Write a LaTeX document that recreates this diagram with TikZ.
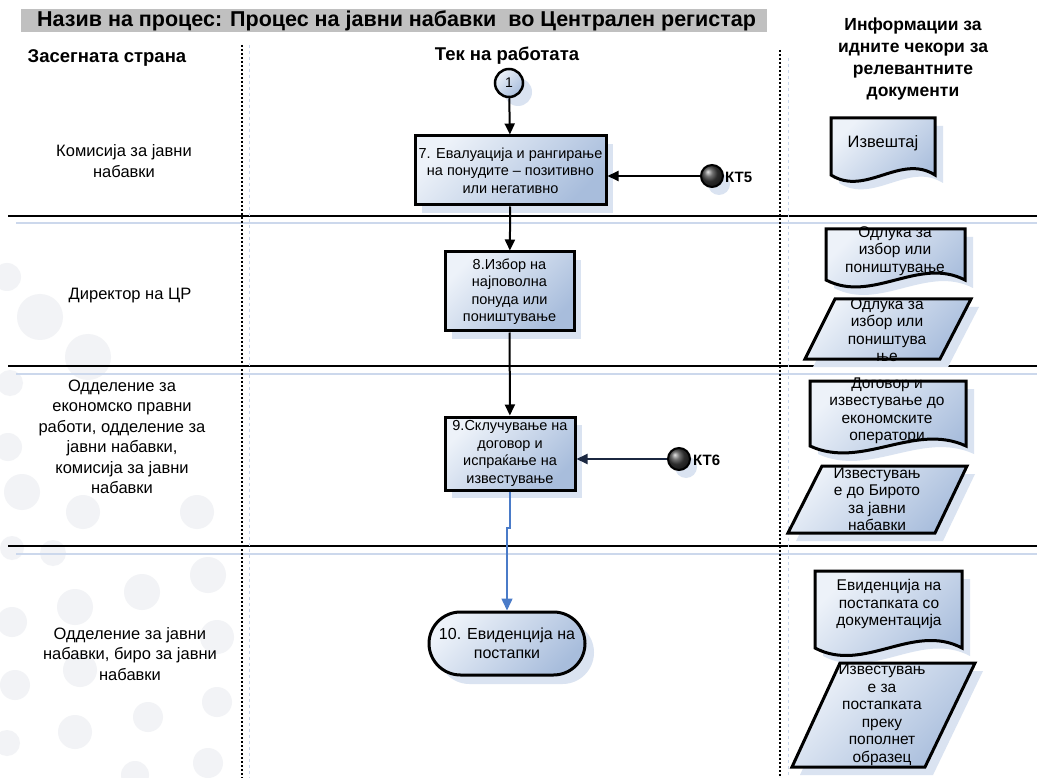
\documentclass[tikz,border=0pt]{standalone}
\usepackage{fontspec}
\setmainfont{Liberation Sans}
\usetikzlibrary{arrows.meta,shadows,shapes.misc}
\definecolor{lf}{HTML}{EDF2F9}
\definecolor{df}{HTML}{A8BDDC}
\definecolor{shc}{HTML}{DAE3F1}
\definecolor{lbl}{HTML}{CCD8EC}
\definecolor{bgc}{HTML}{F2F3F6}
\definecolor{titlegray}{HTML}{C0C0C0}
\definecolor{flowblue}{HTML}{4A7BC8}
\definecolor{navy}{HTML}{1B2740}
\newcommand\docshape[5]{(#1,#2) -- (#3,#2) -- (#3,#4) .. controls ({(2*#3+#1)/3},{#4-#5}) and ({(#3+2*#1)/3},{#4+#5}) .. (#1,#4) -- cycle}
\begin{document}
\begin{tikzpicture}[x=1pt,y=-1pt,
  txt/.style={font=\fontsize{14.5}{17.5}\selectfont, align=center, inner sep=0pt},
  doctxt/.style={font=\fontsize{15.5}{17.5}\selectfont, align=center, inner sep=0pt},
  lane/.style={font=\fontsize{16.5}{20.5}\selectfont, align=center, inner sep=0pt},
  head/.style={font=\bfseries\fontsize{17.5}{22.3}\selectfont, align=center, inner sep=0pt},
  shade45/.style={top color=lf, bottom color=df, shading angle=45},
  proc/.style={txt, draw, line width=3pt, shade45, drop shadow={shadow xshift=7pt, shadow yshift=-8pt, fill=shc, opacity=1}},
  docst/.style={draw, line width=3pt, line join=miter, shade45},
  docsh/.style={fill=shc},
  ktball/.style={circle, draw, line width=2pt, minimum size=22pt, inner sep=0pt, shading=ball, ball color=black!75, drop shadow={shadow xshift=7pt, shadow yshift=-8pt, fill=shc, opacity=1}},
  ktlbl/.style={font=\bfseries\fontsize{15}{17}\selectfont, inner sep=0pt, anchor=west},
  conn/.style={line width=2pt, -{Triangle[length=11pt,width=10pt]}},
  hline/.style={line width=2pt},
  hlblue/.style={line width=2pt, lbl},
  vdot/.style={line width=2pt, dash pattern=on 2pt off 2pt},
  vblue/.style={line width=1pt, lbl, dash pattern=on 3pt off 3pt}
]
\useasboundingbox (0,0) rectangle (1037,778);
\fill[white] (0,0) rectangle (1037,778);
% faint background circles
\foreach \cx/\cy/\r in {7/277/14, 40/317/23, 88/357/23, 10/383/13, 8/447/14, 22/492/18, 83/512/17, 197/512/17, 12/548/12, 53/553/13, 75/607/18, 142/592/18, 208/575/18, 12/622/15, 217/637/17, 80/670/17, 15/685/15, 217/702/15, 148/717/15, 75/732/17, 7/743/13, 208/763/15, 135/775/14}
  \fill[bgc] (\cx,\cy) circle (\r);
% title bar
\fill[titlegray] (21,9) rectangle (767,32);
\node[anchor=west, font=\bfseries\fontsize{21.5}{22}\selectfont, inner sep=0pt] (title) at (37,21) {Назив на процес: Процес на јавни набавки\ \ во Централен регистар};
% headers
\node[font=\bfseries\fontsize{18.5}{20}\selectfont, inner sep=0pt] (h1) at (107,58) {Засегната страна};
\node[font=\bfseries\fontsize{18.5}{20}\selectfont, inner sep=0pt] (h2) at (507,56) {Тек на работата};
\node[head] (h3) at (913,59) {Информации за\\идните чекори за\\релевантните\\документи};
% lane separators
\foreach \yy in {216,366,546} {
  \draw[hline] (8,\yy) -- (1037,\yy);
  \draw[hlblue] (16,\yy+7.5) -- (1037,\yy+7.5);
}
\draw[vblue] (249,45) -- (249,778);
\draw[vdot] (242,45) -- (242,778);
\draw[vblue] (788,58) -- (788,778);
\draw[vdot] (780,50) -- (780,778);
% lane labels
\node[lane] (l1) at (124,161) {Комисија за јавни\\набавки};
\node[lane] (l2) at (130,296) {Директор на ЦР};
\node[lane] (l3) at (122,437) {Одделение за\\економско правни\\работи, одделение за\\јавни набавки,\\комисија за јавни\\набавки};
\node[lane] (l4) at (130,654) {Одделение за јавни\\набавки, биро за јавни\\набавки};
% flow
\node[circle, draw, line width=2.5pt, minimum size=28pt, inner sep=0pt, shade45, font=\fontsize{14}{16}\selectfont, drop shadow={shadow xshift=9pt, shadow yshift=-9pt, fill=shc, opacity=1}] (c1) at (509,83) {1};
\node[proc, minimum width=191pt, minimum height=69pt] (b7) at (510.5,170.5) {7. Евалуација и рангирање\\на понудите – позитивно\\или негативно};
\node[proc, minimum width=129pt, minimum height=79pt] (b8) at (509.5,291.5) {8.Избор на\\најповолна\\понуда или\\поништување};
\node[proc, minimum width=130pt, minimum height=73pt] (b9) at (510,453.5) {9.Склучување на\\договор и\\испраќање на\\известување};
\node[shape=rounded rectangle, draw, line width=3pt, shade45, minimum width=156pt, minimum height=63pt, inner sep=0pt, align=center, font=\fontsize{16}{19}\selectfont, drop shadow={shadow xshift=9pt, shadow yshift=-9pt, fill=shc, opacity=1}] (t10) at (507,643.5) {10. Евиденција на\\постапки};
\node[ktball] (kt5) at (712,176) {};
\node[ktlbl] (kt5l) at (725,177) {КТ5};
\node[ktball] (kt6) at (679,459) {};
\node[ktlbl] (kt6l) at (693,460) {КТ6};
\coordinate (j) at (507,528);
\draw[conn] (c1) -- (b7);
\draw[conn] (b7) -- (b8);
\draw[conn] (b8) -- (b9);
\draw[conn] (kt5) -- (kt5 -| b7.east);
\draw[line width=2pt, -{Triangle[length=11pt,width=10pt]}, navy] (kt6) -- (kt6 -| b9.east);
\draw[line width=1.5pt, flowblue, -{Triangle[length=12pt,width=11pt]}] (b9.south) |- (j) -- (t10.north);
% documents: shadows
\path[docsh, shift={(8,8)}] \docshape{831}{118}{935}{175}{22};
\path[docsh, shift={(8,8)}] \docshape{826}{229}{965}{280}{24};
\path[docsh, shift={(8,8)}] \docshape{810}{381}{966}{446}{24};
\path[docsh, shift={(8,8)}] \docshape{815}{571}{962}{648}{26};
\path[docsh, shift={(8,8)}] (835,299) -- (971,299) -- (940,359) -- (805,359) -- cycle;
\path[docsh, shift={(8,8)}] (822,466) -- (967,466) -- (935,533) -- (788,533) -- cycle;
\path[docsh, shift={(8,8)}] (840,663) -- (975,663) -- (925,767) -- (792,767) -- cycle;
% documents
\draw[docst] \docshape{831}{118}{935}{175}{22};
\draw[docst] \docshape{826}{229}{965}{280}{24};
\draw[docst] \docshape{810}{381}{966}{446}{24};
\draw[docst] \docshape{815}{571}{962}{648}{26};
\draw[docst] (835,299) -- (971,299) -- (940,359) -- (805,359) -- cycle;
\draw[docst] (822,466) -- (967,466) -- (935,533) -- (788,533) -- cycle;
\draw[docst] (840,663) -- (975,663) -- (925,767) -- (792,767) -- cycle;
\node[doctxt, font=\fontsize{16.5}{18}\selectfont] (d1) at (883,143) {Извештај};
\node[doctxt] (d2) at (895,251) {Одлука за\\избор или\\поништување};
\node[doctxt] (p1) at (887,330) {Одлука за\\избор или\\поништува\\ње};
\node[doctxt] (d3) at (887,411) {Договор и\\известување до\\економските\\оператори};
\node[doctxt] (p2) at (877,499) {Известувањ\\е до Бирото\\за јавни\\набавки};
\node[doctxt] (d4) at (889,604) {Евиденција на\\постапката со\\документација};
\node[doctxt] (p3) at (882,715) {Известувањ\\е за\\постапката\\преку\\пополнет\\образец};
\end{tikzpicture}
\end{document}
